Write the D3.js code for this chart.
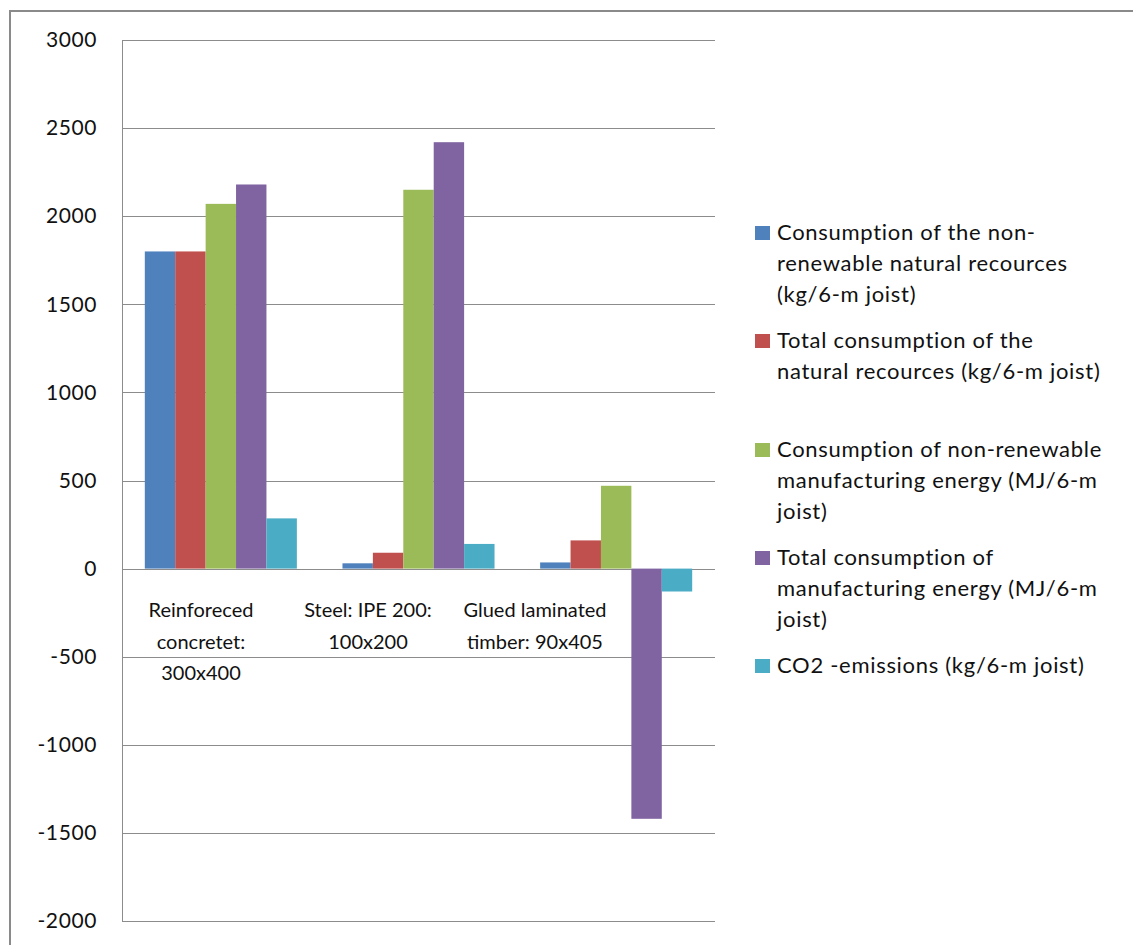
<!DOCTYPE html>
<html>
<head>
<meta charset="utf-8">
<script src="https://cdn.jsdelivr.net/npm/d3@7"></script>
<style>
  html, body { margin: 0; padding: 0; background: #fff; }
  svg { display: block; }
  text { font-family: Lato, "Open Sans", sans-serif; fill: #111; }
</style>
</head>
<body>
<svg id="chart" width="1133" height="945"></svg>
<script>
// Joist alternatives compared
const categories = ["Reinforeced concretet: 300x400", "Steel: IPE 200: 100x200", "Glued laminated timber: 90x405"];
const categoryLines = [
  ["Reinforeced", "concretet:", "300x400"],
  ["Steel: IPE 200:", "100x200"],
  ["Glued laminated", "timber: 90x405"]
];

// Series names (legend text, already wrapped as in the legend)
const seriesNames = [
  "Consumption of the non-renewable natural recources (kg/6-m joist)",
  "Total consumption of the natural recources (kg/6-m joist)",
  "Consumption of non-renewable manufacturing energy (MJ/6-m joist)",
  "Total consumption of manufacturing energy (MJ/6-m joist)",
  "CO2 -emissions (kg/6-m joist)"
];
const seriesLines = [
  ["Consumption of the non-", "renewable natural recources", "(kg/6-m joist)"],
  ["Total consumption of the", "natural recources (kg/6-m joist)"],
  ["Consumption of non-renewable", "manufacturing energy (MJ/6-m", "joist)"],
  ["Total consumption of", "manufacturing energy (MJ/6-m", "joist)"],
  ["CO2 -emissions (kg/6-m joist)"]
];
const seriesColors = ["#4F81BD", "#C0504D", "#9BBB59", "#8064A2", "#4BACC6"];

// Values per series, one per category
const nonRenewableResources = [1800, 30, 35];
const totalResources = [1800, 90, 160];
const nonRenewableEnergy = [2070, 2150, 470];
const totalEnergy = [2180, 2420, -1420];
const co2Emissions = [285, 140, -130];
const seriesValues = [nonRenewableResources, totalResources, nonRenewableEnergy, totalEnergy, co2Emissions];

const yTicks = [3000, 2500, 2000, 1500, 1000, 500, 0, -500, -1000, -1500, -2000];

const svg = d3.select("#chart");

// Outer frame
svg.append("path")
  .attr("d", "M10,945 L10,11 L1133,11")
  .attr("fill", "none")
  .attr("stroke", "#8a8a8a")
  .attr("stroke-width", 2);

const plot = { left: 122, right: 715, top: 40, bottom: 921 };

const y = d3.scaleLinear().domain([-2000, 3000]).range([plot.bottom, plot.top]);
const x0 = d3.scaleBand().domain(categories).range([plot.left, plot.right]).paddingInner(0).paddingOuter(0);
const x1 = d3.scaleBand().domain(d3.range(seriesNames.length))
  .range([0, x0.bandwidth()])
  .paddingInner(0)
  .paddingOuter(0.75);
// Category labels sit on their own, narrower band
const xLabel = d3.scaleBand().domain(categories).range([117.5, 618.5]);

// Gridlines
svg.append("g")
  .selectAll("line")
  .data(yTicks)
  .join("line")
  .attr("x1", plot.left)
  .attr("x2", plot.right)
  .attr("y1", d => Math.round(y(d)) + 0.5)
  .attr("y2", d => Math.round(y(d)) + 0.5)
  .attr("stroke", "#8c8c8c")
  .attr("stroke-width", 1);

// Y axis
const yAxis = svg.append("g")
  .attr("transform", `translate(${plot.left},0)`)
  .call(d3.axisLeft(y).tickValues(yTicks).tickSize(0).tickPadding(25).tickFormat(d => String(d)));
yAxis.select(".domain").attr("stroke", "#8c8c8c").attr("d", `M0.5,${plot.top}V${plot.bottom + 1}`);
yAxis.selectAll("text")
  .style("font-family", "Lato, 'Open Sans', sans-serif")
  .style("font-size", "21px")
  .style("letter-spacing", "0.6px")
  .attr("fill", "#111");

// Bars
const groups = svg.append("g")
  .selectAll("g")
  .data(categories)
  .join("g")
  .attr("transform", d => `translate(${x0(d)},0)`);

groups.selectAll("rect")
  .data((d, ci) => seriesValues.map((vals, si) => ({ si, v: vals[ci] })))
  .join("rect")
  .attr("x", d => x1(d.si))
  .attr("width", x1.bandwidth())
  .attr("y", d => y(Math.max(0, d.v)))
  .attr("height", d => Math.abs(y(d.v) - y(0)))
  .attr("fill", d => seriesColors[d.si]);

// Category labels
const catLabels = svg.append("g")
  .selectAll("text")
  .data(categories)
  .join("text")
  .attr("text-anchor", "middle")
  .attr("x", d => xLabel(d) + xLabel.bandwidth() / 2)
  .attr("y", 617)
  .style("font-size", "20px");
catLabels.selectAll("tspan")
  .data((d, i) => categoryLines[i])
  .join("tspan")
  .attr("x", function () { return this.parentNode.getAttribute("x"); })
  .attr("dy", (d, i) => i === 0 ? 0 : 31.5)
  .text(d => d);

// Legend
svg.append("clipPath").attr("id", "legendClip")
  .append("rect").attr("x", 740).attr("y", 200).attr("width", 364).attr("height", 500);

const legendBaselines = [240, 348, 457, 565, 673];
const legend = svg.append("g").attr("clip-path", "url(#legendClip)")
  .selectAll("g")
  .data(seriesNames)
  .join("g")
  .attr("transform", (d, i) => `translate(755,${legendBaselines[i]})`);

legend.append("rect")
  .attr("x", 0)
  .attr("y", -14)
  .attr("width", 15)
  .attr("height", 14)
  .attr("fill", (d, i) => seriesColors[i]);

const legendText = legend.append("text")
  .attr("x", 22)
  .attr("y", 0)
  .style("font-size", "22px")
  .style("letter-spacing", "0.7px");
legendText.selectAll("tspan")
  .data((d, i) => seriesLines[i])
  .join("tspan")
  .attr("x", 22)
  .attr("dy", (d, i) => i === 0 ? 0 : 31)
  .text(d => d);
</script>
</body>
</html>
